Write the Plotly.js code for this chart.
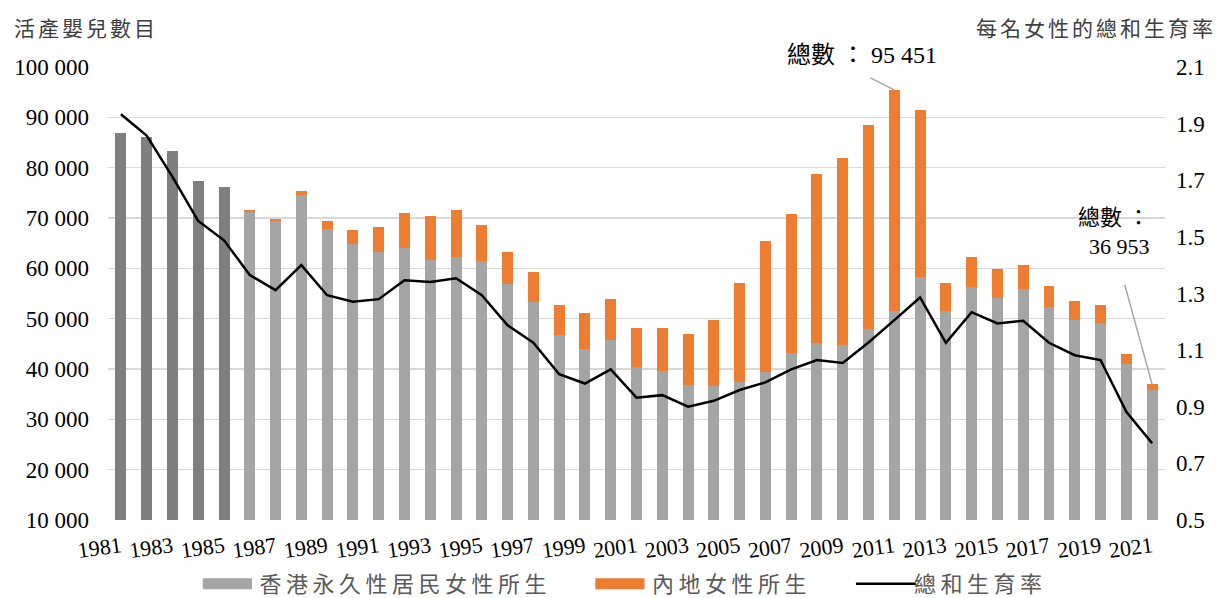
<!DOCTYPE html>
<html>
<head>
<meta charset="utf-8">
<script src="https://cdn.plot.ly/plotly-3.0.1.min.js"></script>
<style>
html,body{margin:0;padding:0;background:#fff;}
#chart{width:1216px;height:598px;}
#chart g.annotation[data-index="0"] text, #chart g.annotation[data-index="1"] text{letter-spacing:3px;}
.legendtext{letter-spacing:4.5px;}
</style>
</head>
<body>
<div id="chart"></div>
<script>
// Years before the split by mother's residency
const earlyYears = [1981, 1982, 1983, 1984, 1985];
const earlyTotals = [86800, 86100, 83300, 77300, 76100];

// Years with split
const splitYears = [1986,1987,1988,1989,1990,1991,1992,1993,1994,1995,1996,1997,1998,1999,2000,
  2001,2002,2003,2004,2005,2006,2007,2008,2009,2010,2011,2012,2013,2014,2015,2016,2017,2018,2019,2020,2021];
const hkResidentBirths = [71100,69400,74500,67900,64900,63300,64000,61600,62300,61500,56800,53400,46800,44000,45800,
  40300,39700,36800,36600,37500,39400,43200,45200,44800,47900,51500,58300,51600,56200,54200,55800,52300,49700,49100,40900,35900];
const mainlandBirths = [400,500,800,1600,2800,4900,6900,8800,9200,7100,6400,5800,6000,7200,8200,
  7900,8400,10100,13100,19500,26100,27600,33500,37200,40600,43951,33200,5400,6000,5600,4900,4200,3900,3700,2000,1053];

// Total fertility rate
const tfrYears = [1981,1982,1983,1984,1985,1986,1987,1988,1989,1990,1991,1992,1993,1994,1995,1996,1997,1998,1999,2000,
  2001,2002,2003,2004,2005,2006,2007,2008,2009,2010,2011,2012,2013,2014,2015,2016,2017,2018,2019,2020,2021];
const tfr = [1.933,1.858,1.712,1.556,1.488,1.365,1.312,1.400,1.294,1.271,1.280,1.347,1.341,1.354,1.294,1.188,1.126,1.015,0.982,1.032,
  0.932,0.941,0.900,0.921,0.959,0.986,1.032,1.065,1.055,1.127,1.206,1.286,1.126,1.234,1.194,1.204,1.126,1.082,1.065,0.882,0.771];

const tickYears = [1981,1983,1985,1987,1989,1991,1993,1995,1997,1999,2001,2003,2005,2007,2009,2011,2013,2015,2017,2019,2021];

const legendNames = ['香港永久性居民女性所生', '內地女性所生', '總和生育率'];
const leftTitle = '活產嬰兒數目';
const rightTitle = '每名女性的總和生育率';

// annotated totals
const peakIdx = splitYears.indexOf(2011);
const peakTotal = hkResidentBirths[peakIdx] + mainlandBirths[peakIdx];
const lastIdx = splitYears.length - 1;
const lastTotal = hkResidentBirths[lastIdx] + mainlandBirths[lastIdx];
const fmt = v => String(v).replace(/\B(?=(\d{3})+(?!\d))/g, ' ');

const CJK = '"Noto Sans CJK TC", "Noto Sans CJK SC", sans-serif';
const SERIF = '"Liberation Serif", "Times New Roman", serif';
const MIXED = '"Liberation Serif", "Noto Sans CJK TC", serif';

const traces = [
  {type:'bar', x: earlyYears, y: earlyTotals, marker:{color:'#7f7f7f', line:{width:0}}, showlegend:false, hoverinfo:'x+y'},
  {type:'bar', x: splitYears, y: hkResidentBirths, name: legendNames[0], marker:{color:'#a5a5a5', line:{width:0}}},
  {type:'bar', x: splitYears, y: mainlandBirths, name: legendNames[1], marker:{color:'#ed7d31', line:{width:0}}},
  {type:'scatter', mode:'lines', x: tfrYears, y: tfr, name: legendNames[2], yaxis:'y2', line:{color:'#000000', width:2.5}}
];

const layout = {
  width:1216, height:598,
  margin:{l:108, r:51, t:67, b:78, pad:0, autoexpand:false},
  paper_bgcolor:'#ffffff', plot_bgcolor:'#ffffff',
  separators:'. ',
  barmode:'stack',
  bargap:0.574,
  font:{family:SERIF, size:23, color:'#000'},
  xaxis:{
    range:[1980.5, 2021.5], tickmode:'array', tickvals:tickYears, ticktext:tickYears.map(String),
    tickangle:-8, showgrid:false, zeroline:false, showline:false, ticks:'', automargin:false,
    tickfont:{family:SERIF, size:22, color:'#000'}, ticklabelstandoff:9
  },
  yaxis:{
    range:[10000, 100000], dtick:10000, tick0:10000, tickformat:',d', automargin:false,
    showgrid:true, gridcolor:'#d9d9d9', gridwidth:1.5, zeroline:false, showline:false, ticks:'',
    tickfont:{family:SERIF, size:23, color:'#000'}, ticklabelstandoff:18
  },
  yaxis2:{
    overlaying:'y', side:'right', range:[0.5, 2.1], dtick:0.2, tick0:0.5, tickformat:'.1f', automargin:false,
    showgrid:false, zeroline:false, showline:false, ticks:'',
    tickfont:{family:SERIF, size:23, color:'#000'}, ticklabelstandoff:10
  },
  legend:{
    orientation:'h', x:0.077, xanchor:'left', y:-0.095, yanchor:'top',
    font:{family:CJK, size:22, color:'#595959'}, traceorder:'normal',
    itemwidth:60, bgcolor:'rgba(0,0,0,0)'
  },
  annotations:[
    {xref:'paper', yref:'paper', x:-0.0823, y:1.088, xanchor:'left', yanchor:'middle', showarrow:false,
     text:leftTitle, font:{family:CJK, size:21, color:'#404040'}},
    {xref:'paper', yref:'paper', x:1.036, y:1.088, xanchor:'right', yanchor:'middle', showarrow:false,
     text:rightTitle, font:{family:CJK, size:21, color:'#404040'}},
    {xref:'paper', yref:'paper', x:0.713, y:1.026, xanchor:'center', yanchor:'middle', showarrow:false,
     text:'總數 ： ' + fmt(peakTotal), font:{family:MIXED, size:24, color:'#000'}},
    {xref:'x', yref:'y', x:2011, y:peakTotal, text:' ', showarrow:true, arrowhead:0, arrowwidth:1.5,
     arrowcolor:'#a6a6a6', ax:-26, ay:-13, standoff:0, font:{size:2}},
    {xref:'paper', yref:'paper', x:0.988, y:0.636, xanchor:'right', yanchor:'middle', align:'right', showarrow:false,
     text:'總數 ：<br>' + fmt(lastTotal), font:{family:MIXED, size:22, color:'#000'}},
    {xref:'x', yref:'y', x:2021, y:lastTotal, text:' ', showarrow:true, arrowhead:0, arrowwidth:1.5,
     arrowcolor:'#a6a6a6', ax:-28, ay:-102, standoff:0, font:{size:2}}
  ]
};

Plotly.newPlot('chart', traces, layout, {displayModeBar:false, staticPlot:true}).then(function(gd){
  // Excel-like legend: wide swatches and wider spacing between entries
  gd.querySelectorAll('.legend [clip-path]').forEach(function(e){ e.removeAttribute('clip-path'); });
  gd.querySelectorAll('.legend .legendpoints path').forEach(function(p){
    var t = p.getAttribute('transform') || '';
    p.setAttribute('transform', t + ' translate(3,0) scale(4.1,0.92)');
  });
  gd.querySelectorAll('.legend .legendlines path').forEach(function(p){
    var t = p.getAttribute('transform') || '';
    p.setAttribute('transform', t + ' translate(7,0)');
  });
  var shifts = [0, 26, 54];
  gd.querySelectorAll('.legend g.traces').forEach(function(g, i){
    var t = g.getAttribute('transform') || '';
    g.setAttribute('transform', t + ' translate(' + (shifts[i] || 0) + ',0)');
  });
});
</script>
</body>
</html>
